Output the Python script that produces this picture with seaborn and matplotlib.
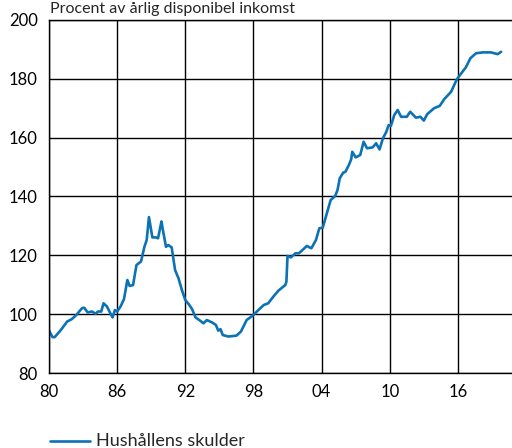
import matplotlib
matplotlib.use("Agg")
import matplotlib.pyplot as plt
from matplotlib.lines import Line2D
import seaborn as sns
import pandas as pd

years = [1980.0, 1980.3, 1980.5, 1981.0, 1981.6, 1982.0, 1982.4, 1982.9, 1983.1, 1983.4,
         1983.8, 1984.1, 1984.3, 1984.6, 1984.8, 1985.1, 1985.4, 1985.6, 1985.8, 1986.0,
         1986.3, 1986.6, 1986.9, 1987.1, 1987.4, 1987.7, 1988.1, 1988.4, 1988.6, 1988.8,
         1989.1, 1989.4, 1989.6, 1989.9, 1990.0, 1990.3, 1990.5, 1990.8, 1991.1, 1991.4,
         1991.7, 1992.0, 1992.3, 1992.6, 1992.9, 1993.3, 1993.6, 1993.9, 1994.4, 1994.7,
         1994.9, 1995.1, 1995.3, 1995.8, 1996.5, 1996.9, 1997.4, 1998.0, 1998.3, 1998.9,
         1999.3, 1999.8, 2000.2, 2000.8, 2000.9, 2001.0, 2001.3, 2001.7, 2002.0, 2002.4,
         2002.7, 2003.1, 2003.5, 2003.8, 2004.1, 2004.5, 2004.8, 2005.2, 2005.4, 2005.6,
         2005.9, 2006.1, 2006.4, 2006.6, 2006.7, 2007.0, 2007.4, 2007.7, 2008.0, 2008.5,
         2008.8, 2009.1, 2009.4, 2009.7, 2009.9, 2010.1, 2010.4, 2010.7, 2011.0, 2011.5,
         2011.8, 2012.3, 2012.7, 2013.0, 2013.3, 2013.9, 2014.4, 2014.8, 2015.4, 2015.9,
         2016.3, 2016.7, 2017.1, 2017.6, 2018.2, 2018.9, 2019.5, 2019.8]
debt = [94.5, 92.2, 92.2, 94.4, 97.5, 98.3, 99.7, 102.0, 102.2, 100.6,
        100.9, 100.1, 100.9, 100.9, 103.7, 102.6, 100.3, 98.9, 101.4, 100.9,
        102.6, 105.1, 111.6, 109.6, 109.9, 116.7, 117.9, 122.9, 125.2, 133.0,
        126.1, 126.1, 125.8, 131.5, 129.2, 122.9, 123.5, 122.7, 115.0, 112.2,
        108.2, 104.8, 103.4, 101.7, 98.9, 97.8, 96.9, 98.0, 97.1, 96.3,
        94.4, 94.9, 92.9, 92.4, 92.7, 94.1, 98.0, 99.7, 100.9, 103.1,
        103.7, 106.2, 108.0, 109.9, 111.0, 119.8, 119.3, 120.7, 120.7, 122.1,
        123.2, 122.4, 125.2, 129.2, 129.4, 134.8, 138.8, 140.2, 142.2, 146.2,
        148.1, 148.4, 150.7, 152.6, 155.2, 153.3, 154.1, 158.6, 156.4, 156.7,
        158.1, 156.0, 159.8, 162.0, 164.3, 164.0, 167.7, 169.4, 167.1, 167.1,
        168.8, 166.8, 167.1, 165.8, 168.0, 170.0, 170.8, 173.1, 175.6, 179.8,
        181.9, 183.9, 187.0, 188.7, 189.0, 189.0, 188.4, 189.2]

x_ticks = [1980, 1986, 1992, 1998, 2004, 2010, 2016]
x_labels = ["80", "86", "92", "98", "04", "10", "16"]
y_ticks = [80, 100, 120, 140, 160, 180, 200]
title = "Procent av årlig disponibel inkomst"
series_name = "Hushållens skulder"

sns.set_style("white")
plt.rcParams['font.family'] = ['Lato', 'DejaVu Sans']

color = "#0b72b5"
df = pd.DataFrame({"year": years, "value": debt})

fig = plt.figure(figsize=(5.12, 4.48), dpi=100)
ax = fig.add_axes([49/512, 1 - 373/448, 1 - 49/512 + 0.002, (373 - 20)/448])
sns.lineplot(data=df, x="year", y="value", ax=ax, color=color, linewidth=1.9)

ax.set_xlim(1980, 1980 + (512 - 49) / (68 / 6))
ax.set_ylim(80, 200)
ax.set_xticks(x_ticks)
ax.set_xticklabels(x_labels)
ax.set_yticks(y_ticks)
ax.tick_params(axis="both", length=0, labelsize=12, colors="black", pad=8)
ax.grid(True, color="black", linewidth=1.0)
ax.set_axisbelow(True)
ax.set_xlabel("")
ax.set_ylabel("")
for side in ["left", "bottom", "top"]:
    ax.spines[side].set_color("black")
    ax.spines[side].set_linewidth(1.0)
ax.spines["right"].set_visible(False)

fig.text(50/512, 1 - 13/448, title, fontsize=11.5, ha="left", va="baseline")

fig.lines.append(Line2D([50/512, 90/512], [1 - 441/448, 1 - 441/448],
                        transform=fig.transFigure, color=color, linewidth=1.9))
fig.text(96/512, 1 - 446/448, series_name, fontsize=13, ha="left", va="baseline")

fig.savefig("out.png", dpi=100)
